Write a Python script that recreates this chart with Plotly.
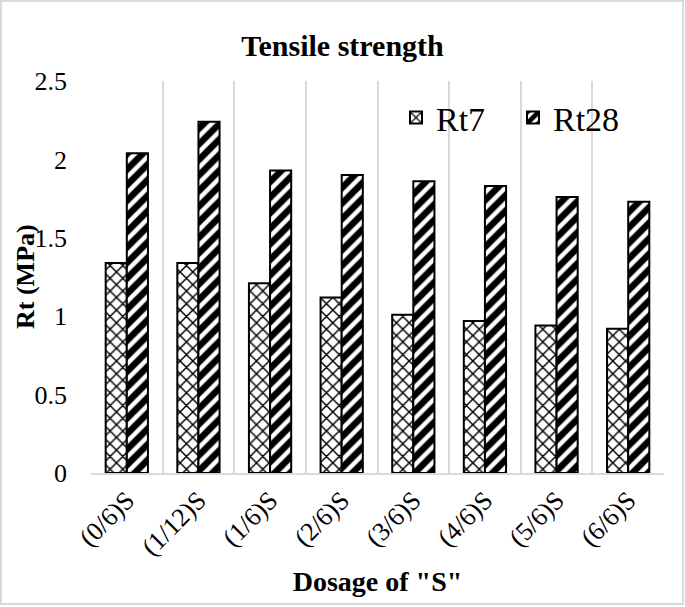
import plotly.graph_objects as go

SERIF = "Times New Roman, Liberation Serif, serif"
GRID = "#d9d9d9"
GRID_LIGHT = "#eeeeee"

dosages = ["(0/6)S", "(1/12)S", "(1/6)S", "(2/6)S", "(3/6)S", "(4/6)S", "(5/6)S", "(6/6)S"]
rt7 = [1.34, 1.34, 1.21, 1.12, 1.01, 0.97, 0.94, 0.92]
rt28 = [2.04, 2.24, 1.93, 1.90, 1.86, 1.83, 1.76, 1.73]
y_ticks = [0, 0.5, 1, 1.5, 2, 2.5]

# plot area in pixels (685 x 607 page)
L, R, T, B = 91, 21, 81, 134
W, H = 685, 607
pw, ph = W - L - R, H - T - B

fig = go.Figure()
fig.add_trace(
    go.Bar(
        x=dosages,
        y=rt7,
        name="Rt7",
        marker={
            "color": "white",
            "line": {"color": "black", "width": 2},
            "pattern": {"shape": "x", "fgcolor": "black", "bgcolor": "white",
                        "fgopacity": 1, "size": 9, "solidity": 0.3},
        },
    )
)
fig.add_trace(
    go.Bar(
        x=dosages,
        y=rt28,
        name="Rt28",
        marker={
            "color": "white",
            "line": {"color": "black", "width": 2},
            "pattern": {"shape": "/", "fgcolor": "black", "bgcolor": "white",
                        "fgopacity": 1, "size": 11, "solidity": 0.6},
        },
    )
)

# chart-area border
fig.add_shape(
    type="rect",
    xref="paper",
    yref="paper",
    x0=(1 - L) / pw,
    x1=(683 - L) / pw,
    y0=-(604 - (T + ph)) / ph,
    y1=(T + ph - 1) / ph,
    line={"color": GRID, "width": 2},
    layer="below",
)

# y-axis title placed as an annotation to sit close to the tick labels
fig.add_annotation(
    text="Rt (MPa)",
    xref="paper",
    yref="paper",
    x=(25 - L) / pw,
    y=0.5,
    xanchor="center",
    yanchor="middle",
    textangle=-90,
    showarrow=False,
    font={"family": SERIF, "size": 26, "weight": "bold", "color": "black"},
)

fig.update_layout(
    width=W,
    height=H,
    margin={"l": L, "r": R, "t": T, "b": B, "autoexpand": False},
    paper_bgcolor="white",
    plot_bgcolor="white",
    barmode="group",
    bargap=0.41,
    bargroupgap=0,
    font={"family": SERIF, "color": "black"},
    title={
        "text": "Tensile strength",
        "font": {"family": SERIF, "size": 30, "weight": "bold", "color": "black"},
        "x": 0.5,
        "xanchor": "center",
        "y": 1 - 45 / H,
        "yanchor": "middle",
        "yref": "container",
    },
    legend={
        "orientation": "h",
        "x": (396 - L) / pw,
        "xanchor": "left",
        "y": (T + ph - 118) / ph,
        "yanchor": "middle",
        "font": {"family": SERIF, "size": 34, "color": "black"},
        "bgcolor": "rgba(0,0,0,0)",
        "entrywidth": 72,
    },
    xaxis={
        "type": "category",
        "tickson": "boundaries",
        "showgrid": True,
        "gridcolor": GRID,
        "gridwidth": 1.5,
        "showline": True,
        "linecolor": GRID,
        "linewidth": 1.5,
        "ticks": "",
        "tickangle": -45,
        "tickfont": {"family": SERIF, "size": 26},
        "title": {
            "text": 'Dosage of "S"',
            "font": {"family": SERIF, "size": 28, "weight": "bold"},
            "standoff": 11,
        },
    },
    xaxis2={
        "overlaying": "x",
        "range": [-0.5, len(dosages) - 0.5],
        "tick0": 0,
        "dtick": 1,
        "showgrid": True,
        "gridcolor": GRID_LIGHT,
        "gridwidth": 1.5,
        "showticklabels": False,
        "ticks": "",
        "zeroline": False,
        "layer": "below traces",
    },
    yaxis={
        "range": [0, 2.5],
        "tickvals": y_ticks,
        "ticktext": [f"{v:g}" for v in y_ticks],
        "showgrid": False,
        "zeroline": False,
        "showline": False,
        "ticks": "",
        "ticklabelstandoff": 23,
        "tickfont": {"family": SERIF, "size": 26},
    },
)

# drop the default body margin so the chart sits at the window origin
fig.write_html(
    "out.html",
    config={"displayModeBar": False},
    post_script="document.body.style.margin = '0';",
)
